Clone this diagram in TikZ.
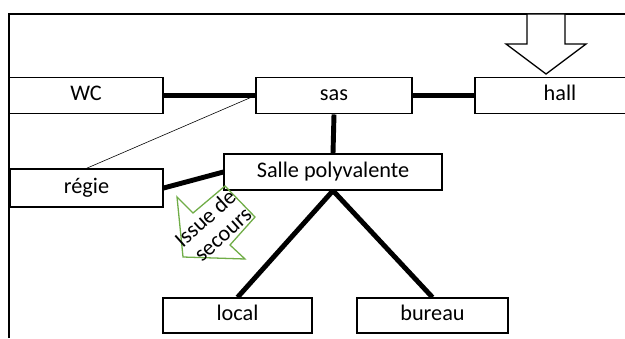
\documentclass[tikz,border=0pt]{standalone}
\usepackage{fontspec}
\setmainfont{Carlito}
\usetikzlibrary{positioning}

\begin{document}
\begin{tikzpicture}[
    x=0.03cm, y=-0.03cm,
    room/.style={rectangle, draw=black, line width=1.1pt, fill=white, inner sep=0pt, minimum height=1.1cm, text height=2.4ex, text depth=0.6ex, font=\fontsize{19}{22}\selectfont},
    link/.style={line width=4.2pt},
    thinlink/.style={line width=0.5pt},
    entry/.style={draw=black, line width=1.1pt, fill=white},
    exitarrow/.style={draw={rgb,255:red,112;green,173;blue,71}, line width=1.1pt},
    exitlabel/.style={rotate=42, inner sep=0pt, font=\fontsize{19}{21}\selectfont}
]
    \clip (0, 0) rectangle (625, 338);
    \fill [white] (0, 0) rectangle (625, 338);

    % Outline of the building
    \draw [line width=1.3pt] (9, 338) -- (9, 14) -- (625, 14);

    % Rooms
    \node (wc) [room, minimum width=154*0.03cm] at (86, 95.5) {WC};
    \node (sas) [room, minimum width=156*0.03cm] at (334, 95.5) {sas};
    \node (hall) [room, minimum width=170*0.03cm] at (560, 95.5) {hall};
    \node (salle) [room, minimum width=218*0.03cm, minimum height=1.08cm] at (333, 172) {Salle polyvalente};
    \node (regie) [room, minimum width=153*0.03cm, minimum height=1.14cm] at (86.5, 188) {régie};
    \node (local) [room, minimum width=149*0.03cm, minimum height=1.05cm] at (237.5, 315.5) {local};
    \node (bureau) [room, minimum width=151*0.03cm, minimum height=1.05cm] at (432.5, 315.5) {bureau};

    % Entrance
    \draw [entry] (527, 14) -- (527, 44) -- (506, 44) -- (546, 74) -- (586, 44) -- (565, 44) -- (565, 14) -- cycle;

    % Connections
    \draw [link] (wc.east) -- (sas.west);
    \draw [link] (sas.east) -- (hall.west);
    \draw [link] (sas.south) -- (salle.north);
    \draw [link] (regie.east) -- (salle.west);
    \draw [link] (salle.south) -- (local.north);
    \draw [link] (salle.south) -- (bureau.north);
    \draw [thinlink] (sas.west) -- (regie.north);

    % Emergency exit
    \draw [exitarrow] (177, 197) -- (193, 213) -- (225, 186) -- (255, 217) -- (230, 245) -- (245, 259) -- (183, 257) -- cycle;
    \node (issue) [exitlabel] at (205, 218) {Issue de};
    \node (secours) [exitlabel] at (224, 236) {secours};
\end{tikzpicture}
\end{document}
